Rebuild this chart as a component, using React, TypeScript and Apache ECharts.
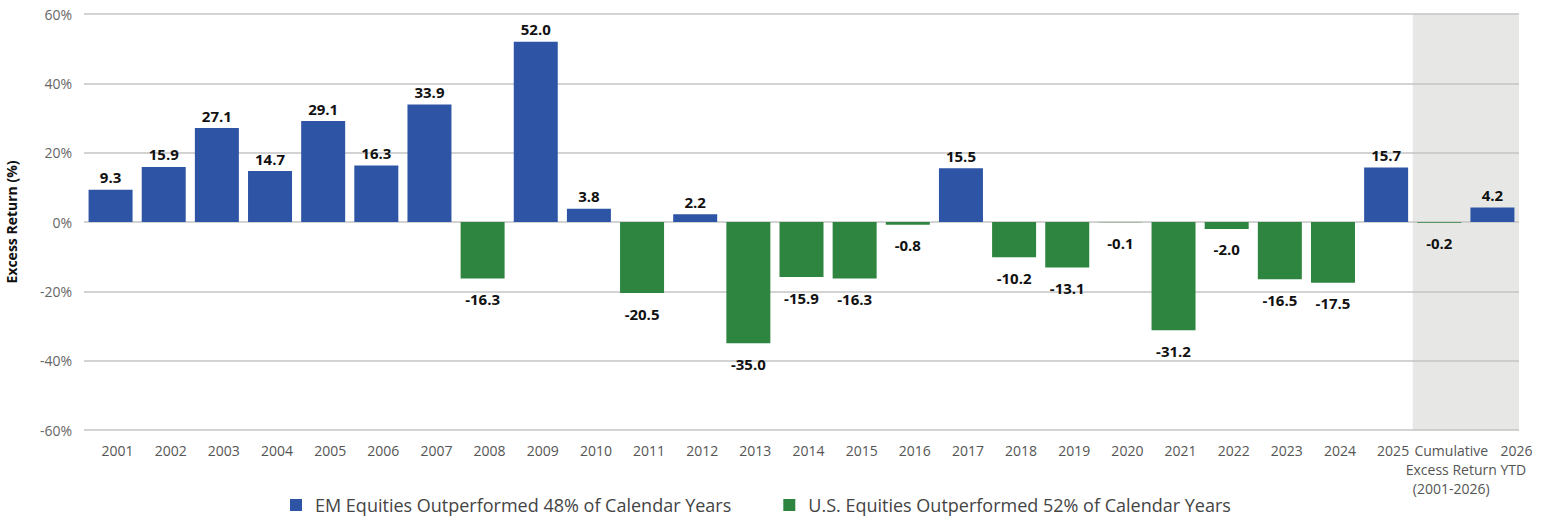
import React, { useEffect, useRef } from "react";
import * as echarts from "echarts";

const categories = [
  "2001", "2002", "2003", "2004", "2005", "2006", "2007", "2008", "2009", "2010",
  "2011", "2012", "2013", "2014", "2015", "2016", "2017", "2018", "2019", "2020",
  "2021", "2022", "2023", "2024", "2025", "Cumulative\nExcess Return\n(2001-2026)", "2026\nYTD",
];
const excessReturn = [
  9.3, 15.9, 27.1, 14.7, 29.1, 16.3, 33.9, -16.3, 52.0, 3.8,
  -20.5, 2.2, -35.0, -15.9, -16.3, -0.8, 15.5, -10.2, -13.1, -0.1,
  -31.2, -2.0, -16.5, -17.5, 15.7, -0.2, 4.2,
];
const yTicks = { min: -60, max: 60, interval: 20 };
const seriesNames = [
  "EM Equities Outperformed 48% of Calendar Years",
  "U.S. Equities Outperformed 52% of Calendar Years",
];
const shadedCategories = [categories[25], categories[26]];

const BLUE = "#2E55A5";
const GREEN = "#2E8540";
const FONT = "'Open Sans', 'Noto Sans', sans-serif";

export default function App() {
  const ref = useRef<HTMLDivElement>(null);
  useEffect(() => {
    document.body.style.margin = "0";
    const chart = echarts.init(ref.current!, null, { renderer: "svg" });
    const emData = excessReturn.map((v) => (v > 0 ? v : "-"));
    const usData = excessReturn.map((v) => (v <= 0 ? v : "-"));
    const axisData = categories.map((c, i) => {
      if (i === categories.length - 2) return { value: c, textStyle: { padding: [0, 0, 0, 24] } };
      if (i === categories.length - 1) return { value: c, textStyle: { align: "left", padding: [0, 0, 0, 8] } };
      return { value: c, textStyle: { padding: [0, 0, 0, 14] } };
    });
    const labelCommon = {
      show: true,
      fontFamily: FONT,
      fontWeight: "bold" as const,
      fontSize: 15,
      color: "#111",
      formatter: (p: any) => Number(p.value).toFixed(1),
    };
    chart.setOption({
      animation: false,
      textStyle: { fontFamily: FONT },
      grid: { left: 84, right: 24, top: 14, bottom: 90, outerBoundsMode: "none", containLabel: false },
      legend: {
        bottom: 1,
        left: 285,
        itemWidth: 12,
        itemHeight: 12,
        itemGap: 52,
        icon: "rect",
        textStyle: { fontFamily: FONT, fontSize: 18, color: "#444", padding: [0, 0, 0, 8] },
        data: seriesNames,
      },
      xAxis: {
        type: "category",
        data: axisData,
        axisLine: { show: false, onZero: false },
        axisTick: { show: false },
        axisLabel: {
          interval: 0,
          fontFamily: FONT,
          fontSize: 14,
          color: "#555",
          lineHeight: 19,
          margin: 11,
        },
      },
      yAxis: {
        type: "value",
        min: yTicks.min,
        max: yTicks.max,
        interval: yTicks.interval,
        name: "Excess Return (%)",
        nameLocation: "middle",
        nameGap: 66,
        nameTextStyle: { fontFamily: FONT, fontWeight: "bold", fontSize: 14, color: "#111" },
        axisLabel: { formatter: "{value}%", fontFamily: FONT, fontSize: 14, color: "#666", margin: 12 },
        splitLine: { lineStyle: { color: "#c4c4c4", width: 1.5 } },
      },
      series: [
        {
          name: seriesNames[0],
          type: "bar",
          stack: "x",
          barWidth: 44,
          data: emData,
          itemStyle: { color: BLUE },
          label: { ...labelCommon, position: "top", distance: 5 },
          z: 3,
        },
        {
          name: seriesNames[1],
          type: "bar",
          stack: "x",
          barWidth: 44,
          data: usData,
          itemStyle: { color: GREEN },
          label: { ...labelCommon, position: "bottom", distance: 13 },
          z: 3,
        },
      ],
    });
    const c0 = chart.convertToPixel({ xAxisIndex: 0 }, shadedCategories[0]) as number;
    const c1 = chart.convertToPixel({ xAxisIndex: 0 }, shadedCategories[1]) as number;
    const half = (c1 - c0) / 2;
    const yTop = chart.convertToPixel({ yAxisIndex: 0 }, yTicks.max) as number;
    const yBot = chart.convertToPixel({ yAxisIndex: 0 }, yTicks.min) as number;
    chart.setOption({
      graphic: [
        {
          type: "rect",
          z: -10,
          silent: true,
          shape: { x: c0 - half, y: yTop, width: c1 - c0 + 2 * half, height: yBot - yTop },
          style: { fill: "#E7E8E6" },
        },
      ],
    });
    return () => chart.dispose();
  }, []);
  return <div ref={ref} style={{ width: 1543, height: 520 }} />;
}
